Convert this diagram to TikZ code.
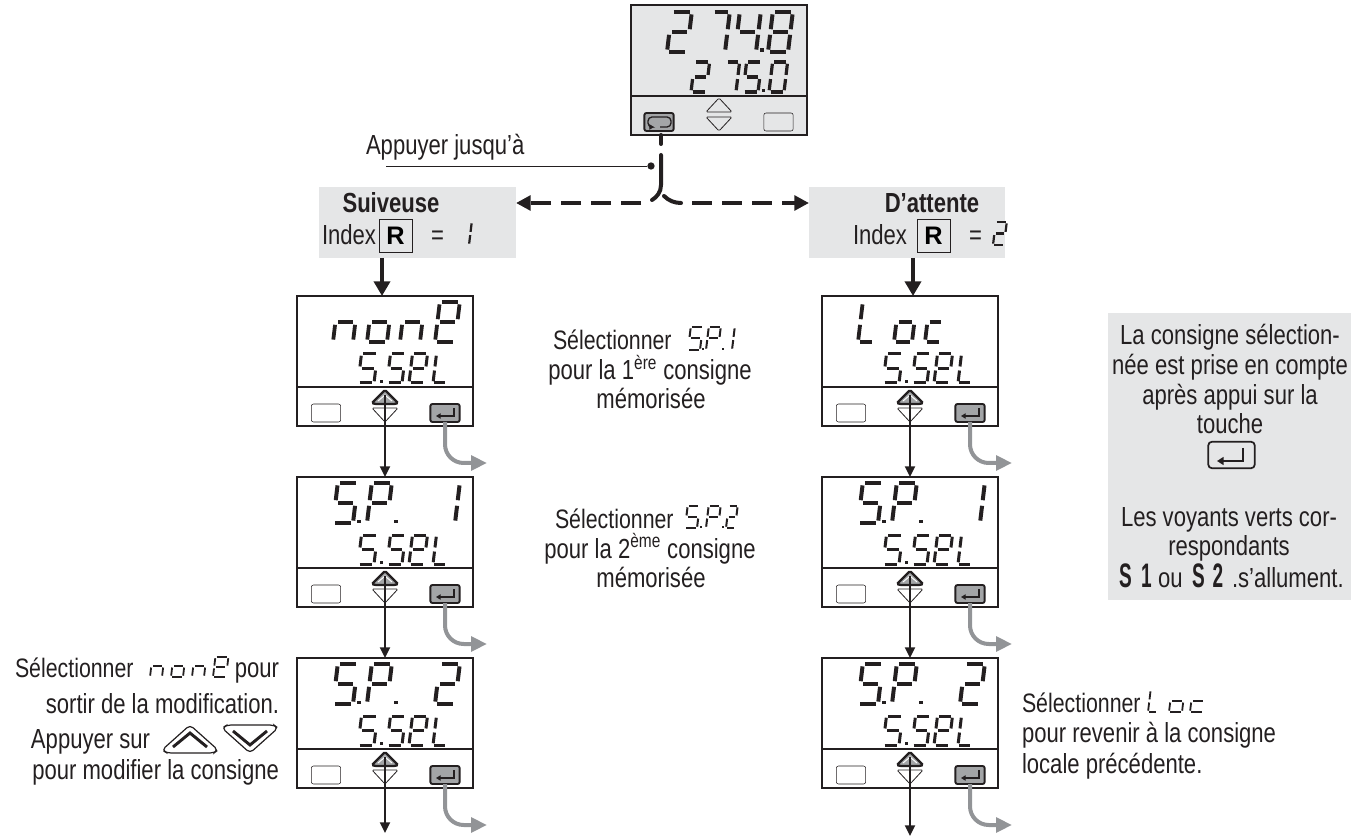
\documentclass[tikz,border=0pt]{standalone}
\usepackage{fontspec}
\setmainfont[FakeStretch=0.8]{Liberation Sans}
\newfontfamily\keyfont{Liberation Sans}
\newfontfamily\ledfont[FakeStretch=0.56]{Liberation Sans}
\usetikzlibrary{arrows.meta}
\definecolor{boxgray}{HTML}{E5E6E7}
\definecolor{keygray}{HTML}{A3A5A7}
\definecolor{outgray}{HTML}{929497}
\definecolor{inkblack}{HTML}{231F20}
\tikzset{
    txt/.style={inner sep=0pt,outer sep=0pt,text=inkblack,font=\fontsize{20.7}{24}\selectfont},
    seltxt/.style={txt,font=\fontsize{20}{24}\selectfont},
    boldtxt/.style={txt,font=\fontsize{20.7}{24}\selectfont\bfseries},
    ledtxt/.style={txt,font=\ledfont\fontsize{25.5}{28}\selectfont\bfseries},
    panelbox/.style={draw=inkblack,line width=.8pt,inner sep=0pt,outer sep=0pt,anchor=north west,minimum width=132pt,minimum height=97.5pt},
    graybox/.style={fill=boxgray,inner sep=0pt,outer sep=0pt,anchor=north west},
    keybox/.style={draw=inkblack,rounded corners=1.6pt,inner sep=0pt,outer sep=0pt,minimum width=22pt,minimum height=13.5pt},
    rbox/.style={draw=inkblack,line width=.7pt,inner sep=0pt,minimum size=24.75pt,font=\keyfont\fontsize{19}{23}\selectfont\bfseries},
    segline/.style={line width=#1*.75pt,inkblack},
    thickarrow/.style={inkblack,line width=3pt,-{Triangle[length=11pt,width=12pt]}},
    thinarrow/.style={inkblack,line width=1.5pt,-{Triangle[length=8pt,width=7.5pt]}},
    outarrow/.style={outgray,line width=3pt,rounded corners=14pt,-{Triangle[length=12pt,width=11pt]}},
    dashline/.style={inkblack,line width=3pt,dash pattern=on 15pt off 7.5pt,-{Triangle[length=11pt,width=11pt]}},
    forkline/.style={inkblack,line width=3pt,line cap=round}
}
\newcommand{\sega}{\draw[segline=\segw] (.1,1)--(.9,1);}
\newcommand{\segb}{\draw[segline=\segw] (1,.94)--(1,.57);}
\newcommand{\segc}{\draw[segline=\segw] (1,.43)--(1,.06);}
\newcommand{\segd}{\draw[segline=\segw] (.1,0)--(.9,0);}
\newcommand{\sege}{\draw[segline=\segw] (0,.06)--(0,.43);}
\newcommand{\segf}{\draw[segline=\segw] (0,.57)--(0,.94);}
\newcommand{\segg}{\draw[segline=\segw] (.14,.5)--(.86,.5);}
\def\gS{a,f,g,c,d}
\def\gP{a,b,f,g,e}
\def\gE{a,b,f,g,e,d}
\def\gL{f,e,d}
\def\gN{e,g,c}
\def\gO{g,c,d,e}
\def\gC{g,e,d}
\def\gI{b,c}
\def\gT{a,b,g,e,d}
\def\gV{a,b,c}
\def\gH{f,g,b,c}
\def\gB{a,b,c,d,e,f,g}
\def\gZ{a,b,c,d,e,f}
% x, baseline, width, height, stroke, segments
\newcommand{\segdig}[6]{
    \begin{scope}[shift={(#1,#2)},x={(#3*.75pt,0pt)},y={(.12*#4*.75pt,#4*.75pt)}]
        \def\segw{#5}
        \foreach \s in #6 {\csname seg\s\endcsname}
    \end{scope}
}
\newcommand{\segdot}[3]{\fill[inkblack] (#1,#2) rectangle ++(#3,-#3);}
% name, x, y
\newcommand{\panelkeys}[3]{
    \begin{scope}[shift={(#2,#3)}]
        \node[panelbox] (#1) at (0,0) {};
        \draw[inkblack,line width=.8pt] (0,91)--(176,91);
        \node[keybox] (#1left) at (29,117) {};
        \draw[inkblack,line width=1.7pt,fill=keygray,rounded corners=1pt] (75,107)--(88,94)--(101,107)--(98,108)--(78,108)--cycle;
        \draw[white,line width=.7pt] (81,105)--(88,99)--(95,105);
        \draw[inkblack,line width=.6pt,rounded corners=1pt] (75,112)--(101,112)--(88,126)--cycle;
        \coordinate (#1up) at (88,99);
        \node[keybox,fill=keygray,line width=1.4pt] (#1enter) at (148,117) {};
        \draw[inkblack,line width=1.1pt,-{Triangle[length=3.5pt,width=4pt]}] (157,112)--(157,120)--(139,120);
        \segdig{61}{87}{16}{29}{3}{\gS}
        \segdot{83}{87}{3}
        \segdig{90}{87}{15}{29}{3}{\gS}
        \segdig{112}{87}{15}{29}{3}{\gE}
        \segdig{136}{87}{13}{29}{3}{\gL}
        \coordinate (#1out) at (190,167);
    \end{scope}
    \draw[outarrow] (#1enter.south) |- (#1out);
}
\newcommand{\spword}[3]{
    \begin{scope}[shift={(#1,#2)}]
        \segdig{36}{46}{20}{40}{4}{\gS}
        \segdot{60}{46}{3.5}
        \segdig{70}{46}{20}{40}{4}{\gP}
        \segdot{97}{46}{3.5}
        \segdig{138}{46}{20}{40}{4}{#3}
    \end{scope}
}
\begin{document}
\begin{tikzpicture}[x=.75pt,y=-.75pt]
    \useasboundingbox (0,0) rectangle (1363,837);

    \node[graybox,minimum width=147.75pt,minimum height=53.25pt] (suiv) at (319,187) {};
    \node[graybox,minimum width=147pt,minimum height=53.25pt] (attente) at (809,187) {};
    \node[graybox,minimum width=182.25pt,minimum height=215.25pt] (note) at (1108,313) {};

    % top display
    \node[panelbox,fill=boxgray] (main) at (631,5) {};
    \draw[inkblack,line width=.8pt] (631,96)--(807,96);
    \segdig{667}{52}{20}{40}{4}{\gT}
    \segdig{708}{52}{17}{40}{4}{\gV}
    \segdig{735}{52}{21}{40}{4}{\gH}
    \segdot{760}{52}{3.5}
    \segdig{768}{52}{20}{40}{4}{\gB}
    \segdig{691}{92}{15}{30}{3.2}{\gT}
    \segdig{723}{92}{13}{30}{3.2}{\gV}
    \segdig{743}{92}{15}{30}{3.2}{\gS}
    \segdot{762}{92}{3}
    \segdig{769}{92}{15}{30}{3.2}{\gZ}
    \node[keybox,fill=keygray,line width=1.4pt] (loopkey) at (659,122) {};
    \draw[inkblack,line width=1pt,rounded corners=3pt,-{Triangle[length=3.5pt,width=4pt]}] (660,127)--(671,127)--(671,117)--(648,117)--(648,127)--(654,127);
    \draw[inkblack,line width=.6pt,rounded corners=1pt] (706,112)--(719,98)--(732,112)--cycle;
    \draw[inkblack,line width=.6pt,rounded corners=1pt] (706,117)--(732,117)--(719,131)--cycle;
    \node[keybox] (mainright) at (778.5,122) {};

    % fork under the top display
    \coordinate (forktop) at (661,144);
    \coordinate (forkmid) at (661,155);
    \coordinate (forkleft) at (652,200);
    \coordinate (forkright) at (664,196);
    \coordinate (dashleft) at (641,203);
    \coordinate (dashright) at (692,203);
    \draw[forkline] (main.south -| forktop) -- (forktop);
    \draw[forkline] (forkmid) -- (661,185) .. controls (661,192) and (657,197) .. (forkleft);
    \draw[forkline] (forkright) .. controls (669,201) and (675,203) .. (681,203);
    \draw[dashline] (dashleft) -- (suiv.east |- dashleft);
    \draw[dashline] (dashright) -- (attente.west |- dashright);

    \node[txt,anchor=base west] (press) at (366,155) {Appuyer jusqu'à};
    \coordinate (pressline) at (386,166);
    \node[circle,fill=inkblack,inner sep=0pt,minimum size=5.5pt] (pressdot) at (651,166) {};
    \draw[inkblack,line width=.6pt] (pressline) -- (pressdot);

    % mode boxes
    \node[boldtxt,anchor=base] (suivtxt) at (391,213) {Suiveuse};
    \node[txt,anchor=base west] (suividx) at (322,245) {Index};
    \node[rbox] (suivr) at (395.5,235.5) {R};
    \node[txt,anchor=base west] (suiveq) at (431,245) {=};
    \segdig{465}{245}{4}{23}{2.2}{\gI}
    \node[boldtxt,anchor=base] (atttxt) at (932,213) {D'attente};
    \node[txt,anchor=base west] (attidx) at (853,245) {Index};
    \node[rbox] (attr) at (933.5,235.5) {R};
    \node[txt,anchor=base west] (atteq) at (969,245) {=};
    \segdig{993}{245}{11}{23}{2.2}{\gT}

    % panels
    \panelkeys{pa}{297}{296}
    \panelkeys{pb}{297}{477}
    \panelkeys{pc}{297}{658}
    \panelkeys{qa}{822}{296}
    \panelkeys{qb}{822}{477}
    \panelkeys{qc}{822}{658}
    \begin{scope}[shift={(297,296)}]
        \segdig{36}{46}{20}{40}{3.8}{\gN}
        \segdig{70}{46}{20}{40}{3.8}{\gO}
        \segdig{103}{46}{20}{40}{3.8}{\gN}
        \segdig{138}{46}{20}{40}{3.8}{\gE}
    \end{scope}
    \begin{scope}[shift={(822,296)}]
        \segdig{36}{46}{15}{40}{3.8}{\gL}
        \segdig{72}{46}{18}{40}{3.8}{\gO}
        \segdig{103}{46}{16}{40}{3.8}{\gC}
    \end{scope}
    \spword{297}{477}{\gI}
    \spword{297}{658}{\gT}
    \spword{822}{477}{\gI}
    \spword{822}{658}{\gT}

    % arrows
    \coordinate (suivout) at (382,258);
    \coordinate (suivin) at (382,296);
    \coordinate (attout) at (913,258);
    \coordinate (attin) at (913,296);
    \draw[thickarrow] (suivout) -- (suivin);
    \draw[thickarrow] (attout) -- (attin);
    \draw[thinarrow] (paup) -- (pb.north);
    \draw[thinarrow] (pbup) -- (pc.north);
    \coordinate (pcend) at (385,833);
    \draw[thinarrow] (pcup) -- (pcend);
    \draw[thinarrow] (qaup) -- (qb.north);
    \draw[thinarrow] (qbup) -- (qc.north);
    \coordinate (qcend) at (910,836);
    \draw[thinarrow] (qcup) -- (qcend);

    % middle texts
    \node[seltxt,anchor=base west] (mida) at (553,350) {Sélectionner};
    \segdig{688}{350}{12}{23}{2}{\gS}
    \segdot{702}{350}{2}
    \segdig{706}{350}{12}{23}{2}{\gP}
    \segdot{722}{350}{2}
    \segdig{728}{350}{4}{23}{2}{\gI}
    \node[txt,anchor=base] (midb) at (650,380) {pour la 1\textsuperscript{ère} consigne};
    \node[txt,anchor=base] (midc) at (651,409) {mémorisée};
    \node[seltxt,anchor=base west] (midd) at (555,528) {Sélectionner};
    \segdig{685}{528}{12}{22}{2}{\gS}
    \segdot{700}{528}{2}
    \segdig{706}{528}{12}{22}{2}{\gP}
    \segdot{722}{528}{2}
    \segdig{726}{528}{9}{22}{2}{\gT}
    \node[txt,anchor=base] (mide) at (650,558) {pour la 2\textsuperscript{ème} consigne};
    \node[txt,anchor=base] (midf) at (651,587) {mémorisée};

    % bottom left texts
    \node[seltxt,anchor=base west] (lefta) at (15,677) {Sélectionner};
    \segdig{150}{677}{12}{22}{1.8}{\gN}
    \segdig{171}{677}{12}{22}{1.8}{\gO}
    \segdig{192}{677}{12}{22}{1.8}{\gN}
    \segdig{213}{677}{13}{20}{1.8}{\gE}
    \node[txt,anchor=base east] (leftb) at (279,677) {pour};
    \node[txt,anchor=base east] (leftc) at (279,713) {sortir de la modification.};
    \node[txt,anchor=base west] (leftd) at (31,748) {Appuyer sur};
    \draw[inkblack,line width=.9pt,rounded corners=3pt] (162,750)--(190,725)--(218,750)--(214,753)--(167,753)--cycle;
    \draw[inkblack,line width=2.2pt] (173,747)--(190,733)--(207,747);
    \draw[inkblack,line width=.9pt,rounded corners=3pt] (222,728)--(250,753)--(278,728)--(274,725)--(227,725)--cycle;
    \draw[inkblack,line width=2.2pt] (233,731)--(250,745)--(267,731);
    \node[txt,anchor=base east] (lefte) at (279,779) {pour modifier la consigne};

    % bottom right texts
    \node[seltxt,anchor=base west] (righta) at (1022,712) {Sélectionner};
    \segdig{1148}{712}{9}{22}{1.8}{\gL}
    \segdig{1169}{712}{13}{22}{1.8}{\gO}
    \segdig{1190}{712}{13}{22}{1.8}{\gC}
    \node[txt,anchor=base west] (rightb) at (1022,742) {pour revenir à la consigne};
    \node[txt,anchor=base west] (rightc) at (1022,773) {locale précédente.};

    % note box
    \node[txt,anchor=base] (notea) at (1230,345) {La consigne sélection-};
    \node[txt,anchor=base] (noteb) at (1230,375) {née est prise en compte};
    \node[txt,anchor=base] (notec) at (1230,405) {après appui sur la};
    \node[txt,anchor=base] (noted) at (1230,434) {touche};
    \node[draw=inkblack,line width=1.3pt,rounded corners=3pt,inner sep=0pt,minimum width=35pt,minimum height=20pt] (notekey) at (1231.5,455) {};
    \draw[inkblack,line width=1.6pt,-{Triangle[length=5pt,width=6pt]}] (1243,448)--(1243,461)--(1217,461);
    \node[txt,anchor=base] (notee) at (1229,526) {Les voyants verts cor-};
    \node[txt,anchor=base] (notef) at (1229,555) {respondants};
    \node[ledtxt,anchor=base west] (noteg) at (1119,587) {S\hspace{7pt}1};
    \node[txt,anchor=base west] (noteh) at (1158,587) {ou};
    \node[ledtxt,anchor=base west] (notei) at (1192,587) {S\hspace{6pt}2};
    \node[txt,anchor=base west] (notej) at (1232,587) {.s'allument.};
\end{tikzpicture}
\end{document}
